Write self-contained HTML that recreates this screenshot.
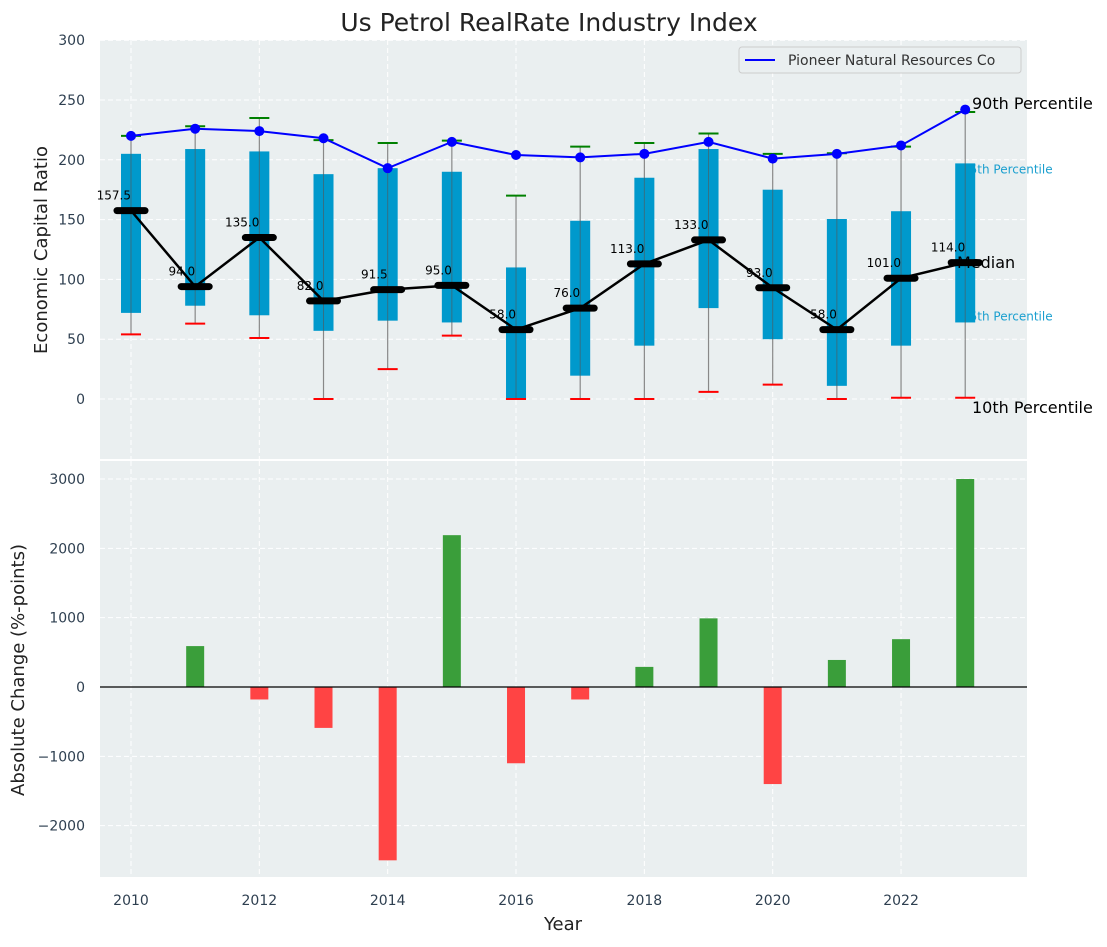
<!DOCTYPE html>
<html><head><meta charset="utf-8"><style>
body{margin:0;background:#fff;font-family:"Liberation Sans","DejaVu Sans",sans-serif}
svg text{font-family:"DejaVu Sans","Liberation Sans",sans-serif}
</style></head><body>
<svg id="c" width="1107" height="942" xmlns="http://www.w3.org/2000/svg"></svg>
<script>
const years=[2010,2011,2012,2013,2014,2015,2016,2017,2018,2019,2020,2021,2022,2023];
const p10=[54,63,51,0,25,53,0,0,0,6,12,0,1,1];
const q1=[72,78,70,57,65.5,64,0,19.5,44.6,76,50,11,44.6,64];
const medians=[157.5,94,135,82,91.5,95,58,76,113,133,93,58,101,114];
const q3=[205,209,207,188,193,190,110,149,185,209,175,150.5,157,197];
const p90=[220,228,235,216.5,214,216,170,211,214,222,205,205.5,211,240];
const pioneer=[220,226,224,218,193,215,204,202,205,215,201,205,212,242];
const changes=[0,590,-180,-590,-2500,2190,-1100,-180,290,990,-1400,390,690,3000];
const topTicks=[0,50,100,150,200,250,300];
const botTicks=[-2000,-1000,0,1000,2000,3000];
const xTicks=[2010,2012,2014,2016,2018,2020,2022];

const NS="http://www.w3.org/2000/svg";
const svg=document.getElementById('c');
function el(t,a,p){const e=document.createElementNS(NS,t);for(const k in a)e.setAttribute(k,a[k]);(p||svg).appendChild(e);return e;}
const X=v=>131+(v-2010)*64.17;
const YT=v=>399-v*1.196;
const YB=v=>687-v*0.06933;
const L=100,R=1027;

let e=el('rect',{x:L,y:40,width:R-L,height:419,fill:'#eaeff0'});

e=el('rect',{x:L,y:461,width:R-L,height:416,fill:'#eaeff0'});


xTicks.forEach(t=>{
 el('line',{x1:X(t),x2:X(t),y1:40,y2:459,stroke:'#fff','stroke-dasharray':'5,3','stroke-width':1});
 el('line',{x1:X(t),x2:X(t),y1:461,y2:877,stroke:'#fff','stroke-dasharray':'5,3','stroke-width':1});
 e=el('text',{x:X(t),y:905,'text-anchor':'middle','font-size':14,fill:'#2e3f50'});e.textContent=t;
 
});
topTicks.forEach(t=>{
 el('line',{x1:L,x2:R,y1:YT(t),y2:YT(t),stroke:'#fff','stroke-dasharray':'5,3'});
 e=el('text',{x:85,y:YT(t)+5,'text-anchor':'end','font-size':14,fill:'#2e3f50'});e.textContent=t;
 
});
botTicks.forEach(t=>{
 el('line',{x1:L,x2:R,y1:YB(t),y2:YB(t),stroke:'#fff','stroke-dasharray':'5,3'});
 e=el('text',{x:85,y:YB(t)+5,'text-anchor':'end','font-size':14,fill:'#2e3f50'});e.textContent=t<0?'\u2212'+(-t):t;
 
});

[['75th Percentile',YT(192),12,'#1a9fcf',962,'p75-label'],['25th Percentile',YT(69),12,'#1a9fcf',962,'p25-label']].forEach(a=>{
 e=el('text',{x:a[4],y:a[1]+4,'font-size':a[2],fill:a[3]});e.textContent=a[0];
 
});

years.forEach((y,i)=>{
 const x=X(y);
 el('line',{x1:x,x2:x,y1:YT(p90[i]),y2:YT(p10[i]),stroke:'#888','stroke-width':1.2});
 e=el('rect',{x:x-10,y:YT(q3[i]),width:20,height:YT(q1[i])-YT(q3[i]),fill:'#0099cc'});
 
 el('line',{x1:x,x2:x,y1:YT(q3[i]),y2:YT(q1[i]),stroke:'#555','stroke-width':1,opacity:0.6});
 el('line',{x1:x-10,x2:x+10,y1:YT(p90[i]),y2:YT(p90[i]),stroke:'green','stroke-width':2});
 el('line',{x1:x-10,x2:x+10,y1:YT(p10[i]),y2:YT(p10[i]),stroke:'red','stroke-width':2});
});
e=el('polyline',{points:years.map((y,i)=>X(y)+','+YT(medians[i])).join(' '),fill:'none',stroke:'#000','stroke-width':2.5});

years.forEach((y,i)=>{
 const x=X(y);
 el('line',{x1:x-14,x2:x+14,y1:YT(medians[i]),y2:YT(medians[i]),stroke:'#000','stroke-width':7,'stroke-linecap':'round'});
 e=el('text',{x:x,y:YT(medians[i])-11,'text-anchor':'end','font-size':12,fill:'#000'});e.textContent=medians[i].toFixed(1);
 
});
e=el('polyline',{points:years.map((y,i)=>X(y)+','+YT(pioneer[i])).join(' '),fill:'none',stroke:'#0000ff','stroke-width':2});

years.forEach((y,i)=>{e=el('circle',{cx:X(y),cy:YT(pioneer[i]),r:5,fill:'#0000ff'});
 });

[['90th Percentile',972,109,'p90-label'],['Median',957,268,'median-label'],['10th Percentile',972,413,'p10-label']].forEach(a=>{
 e=el('text',{x:a[1],y:a[2],'font-size':16,fill:'#000'});e.textContent=a[0];
 
});

const g=el('g',{});
el('rect',{x:739,y:47,width:282,height:26,fill:'#eaeff0',stroke:'#ccc',rx:3},g);
el('line',{x1:745,x2:775,y1:60,y2:60,stroke:'#0000ff','stroke-width':2},g);
e=el('text',{x:788,y:65,'font-size':14,fill:'#333'},g);e.textContent='Pioneer Natural Resources Co';

years.forEach((y,i)=>{
 const v=changes[i];
 e=el('rect',{x:X(y)-9,y:Math.min(YB(v),YB(0)),width:18,height:Math.abs(YB(v)-YB(0)),fill:v>=0?'#3a9e3a':'#ff4444'});
 
});
el('line',{x1:L,x2:R,y1:YB(0),y2:YB(0),stroke:'#000','stroke-width':1.2});

e=el('text',{x:549,y:31,'text-anchor':'middle','font-size':25,fill:'#222'});e.textContent='Us Petrol RealRate Industry Index';

e=el('text',{x:563,y:930,'text-anchor':'middle','font-size':18,fill:'#222'});e.textContent='Year';

e=el('text',{x:0,y:0,'text-anchor':'middle','font-size':18,fill:'#222',transform:'translate(47,250) rotate(-90)'});e.textContent='Economic Capital Ratio';

e=el('text',{x:0,y:0,'text-anchor':'middle','font-size':18,fill:'#222',transform:'translate(24,670) rotate(-90)'});e.textContent='Absolute Change (%-points)';

</script>
</body></html>
